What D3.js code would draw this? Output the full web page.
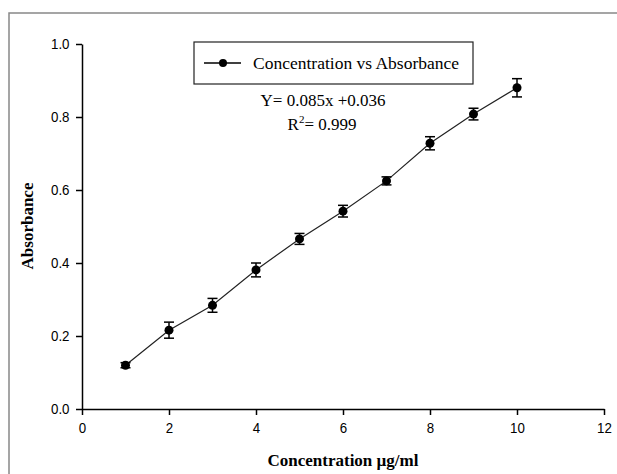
<!DOCTYPE html>
<html>
<head>
<meta charset="utf-8">
<style>
  body { margin: 0; background: #fff; }
  svg { display: block; }
</style>
</head>
<body>
<div id="container"></div>
<script src="https://cdn.jsdelivr.net/npm/d3@7"></script>
<script>
// concentration (µg/ml), mean absorbance and error (±)
const conc = [1, 2, 3, 4, 5, 6, 7, 8, 9, 10];
const absorbance = [0.120, 0.216, 0.284, 0.381, 0.466, 0.542, 0.625, 0.728, 0.808, 0.880];
const errors = [0.007, 0.022, 0.019, 0.019, 0.015, 0.016, 0.011, 0.018, 0.016, 0.025];
const xTicks = [0, 2, 4, 6, 8, 10, 12];
const yTicks = [0.0, 0.2, 0.4, 0.6, 0.8, 1.0];
const legendLabel = "Concentration vs Absorbance";

const width = 617, height = 474;
const svg = d3.select("#container").append("svg")
    .attr("width", width)
    .attr("height", height);

// outer frame (cut off at right and bottom like the picture)
svg.append("path")
    .attr("d", "M9,474 V13 H617")
    .attr("fill", "none")
    .attr("stroke", "#888")
    .attr("stroke-width", 1.5);

const x = d3.scaleLinear().domain([0, 12]).range([82, 604]);
const y = d3.scaleLinear().domain([0, 1]).range([409, 44]);

const tickFont = "'Liberation Sans', Arial, sans-serif";
const serif = "'Liberation Serif', 'Times New Roman', serif";
const squeeze = 0.86; // tick labels are a narrow face in the picture

const xAxis = svg.append("g")
    .attr("transform", `translate(0,${y(0)})`)
    .call(d3.axisBottom(x).tickValues(xTicks).tickFormat(d3.format("d")).tickSize(6).tickPadding(7).tickSizeOuter(0));
const yAxis = svg.append("g")
    .attr("transform", `translate(${x(0)},0)`)
    .call(d3.axisLeft(y).tickValues(yTicks).tickFormat(d3.format(".1f")).tickSize(6).tickPadding(6.5).tickSizeOuter(0));

[xAxis, yAxis].forEach(g => {
    g.select(".domain").attr("stroke", "#000").attr("stroke-width", 1.5);
    g.selectAll(".tick line").attr("stroke", "#000").attr("stroke-width", 1.5);
    g.selectAll(".tick text")
        .attr("fill", "#000")
        .style("font-family", tickFont)
        .style("font-size", "15.5px")
        .attr("x", function() { return (+d3.select(this).attr("x") || 0) / squeeze; })
        .attr("transform", `scale(${squeeze},1)`);
});

// axis titles
svg.append("text")
    .attr("x", 343).attr("y", 466)
    .attr("text-anchor", "middle")
    .style("font-family", serif)
    .style("font-weight", "bold")
    .style("font-size", "17px")
    .text("Concentration µg/ml");

svg.append("text")
    .attr("transform", "translate(33,226) rotate(-90)")
    .attr("text-anchor", "middle")
    .style("font-family", serif)
    .style("font-weight", "bold")
    .style("font-size", "17px")
    .text("Absorbance");

const pts = conc.map((c, i) => ({ c, a: absorbance[i], e: errors[i] }));

// line through the means
svg.append("path")
    .datum(pts)
    .attr("fill", "none")
    .attr("stroke", "#222")
    .attr("stroke-width", 1.2)
    .attr("d", d3.line().x(d => x(d.c)).y(d => y(d.a)));

// error bars
const eb = svg.append("g").attr("stroke", "#000").attr("stroke-width", 1.5);
pts.forEach(d => {
    eb.append("line")
        .attr("x1", x(d.c)).attr("x2", x(d.c))
        .attr("y1", y(d.a - d.e)).attr("y2", y(d.a + d.e));
    [d.a - d.e, d.a + d.e].forEach(v => {
        eb.append("line")
            .attr("x1", x(d.c) - 5).attr("x2", x(d.c) + 5)
            .attr("y1", y(v)).attr("y2", y(v));
    });
});

svg.append("g").selectAll("circle")
    .data(pts)
    .join("circle")
    .attr("cx", d => x(d.c))
    .attr("cy", d => y(d.a))
    .attr("r", 4.5)
    .attr("fill", "#000");

// legend
const lg = svg.append("g");
lg.append("rect")
    .attr("x", 194).attr("y", 42)
    .attr("width", 279).attr("height", 42)
    .attr("fill", "#fff")
    .attr("stroke", "#222")
    .attr("stroke-width", 1.2);
lg.append("line")
    .attr("x1", 204).attr("x2", 241)
    .attr("y1", 63).attr("y2", 63)
    .attr("stroke", "#000").attr("stroke-width", 1.3);
lg.append("circle")
    .attr("cx", 223).attr("cy", 63).attr("r", 4).attr("fill", "#000");
lg.append("text")
    .attr("x", 253).attr("y", 69)
    .style("font-family", serif)
    .style("font-size", "17.5px")
    .text(legendLabel);

// regression annotation
const eq = svg.append("g")
    .style("font-family", serif)
    .style("font-size", "17px")
    .attr("text-anchor", "middle");
eq.append("text").attr("x", 323).attr("y", 106).text("Y= 0.085x +0.036");
const r2 = eq.append("text").attr("x", 322).attr("y", 130);
r2.append("tspan").text("R");
r2.append("tspan").attr("dy", -7).style("font-size", "11px").text("2");
r2.append("tspan").attr("dy", 7).text("= 0.999");
</script>
</body>
</html>
